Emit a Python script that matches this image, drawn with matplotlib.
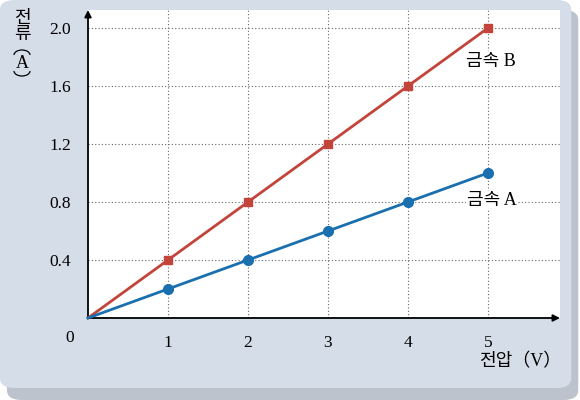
import matplotlib.pyplot as plt
from matplotlib.patches import FancyBboxPatch, Arc

# data
voltage = [0, 1, 2, 3, 4, 5]
current_a = [0, 0.2, 0.4, 0.6, 0.8, 1.0]
current_b = [0, 0.4, 0.8, 1.2, 1.6, 2.0]
xticks = [1, 2, 3, 4, 5]
yticks = [0.4, 0.8, 1.2, 1.6, 2.0]
ytick_labels = ['0.4', '0.8', '1.2', '1.6', '2.0']

serif = ['Liberation Serif', 'DejaVu Serif']
mixed = ['Liberation Serif', 'Noto Sans CJK KR', 'DejaVu Sans']

W, H = 580, 400
fig = plt.figure(figsize=(5.8, 4.0), dpi=100)
fig.patch.set_facecolor('white')

# rounded background panel with shadow
shadow = FancyBboxPatch((0.012, 0.0), 0.985, 0.975, boxstyle='round,pad=0,rounding_size=0.025',
                        transform=fig.transFigure, facecolor='#bcc3cc', edgecolor='none', zorder=-2)
panel = FancyBboxPatch((0.0, 0.03), 0.985, 0.97, boxstyle='round,pad=0,rounding_size=0.025',
                       transform=fig.transFigure, facecolor='#d5dde8', edgecolor='none', zorder=-1)
fig.patches.extend([shadow, panel])

ax = fig.add_axes([88 / W, 82 / H, 472 / W, 308 / H])
ax.set_zorder(5)
ax.set_facecolor('white')
ax.set_xlim(0, 5.9)
ax.set_ylim(0, 2.124)

for s in ax.spines.values():
    s.set_visible(False)

ax.set_xticks(xticks)
ax.set_yticks(yticks)
ax.set_xticklabels([str(t) for t in xticks], family=serif, fontsize=12.5)
ax.set_yticklabels(ytick_labels, family=serif, fontsize=12.5)
ax.tick_params(length=0, pad=12)
ax.grid(True, color='#666666', linestyle=(0, (1, 2)), linewidth=0.8)

# axes with arrows
ax.annotate('', xy=(1.0, 0), xytext=(0, 0), xycoords='axes fraction',
            arrowprops=dict(arrowstyle='-|>', color='black', lw=1.3, mutation_scale=10,
                            shrinkA=0, shrinkB=0))
ax.annotate('', xy=(0, 1.0), xytext=(0, 0), xycoords='axes fraction',
            arrowprops=dict(arrowstyle='-|>', color='black', lw=1.3, mutation_scale=10,
                            shrinkA=0, shrinkB=0))

ax.plot(voltage, current_b, color='#c3443a', lw=2, marker='s', markersize=6,
        markevery=[1, 2, 3, 4, 5], zorder=3, clip_on=False)
ax.plot(voltage, current_a, color='#1a6fae', lw=2, marker='o', markersize=7,
        markevery=[1, 2, 3, 4, 5], zorder=3, clip_on=False)

ax.text(5.04, 1.77, '금속 B', family=mixed, fontsize=13, ha='center', va='center',
        bbox=dict(facecolor='white', edgecolor='none', pad=1))
ax.text(5.05, 0.81, '금속 A', family=mixed, fontsize=13, ha='center', va='center',
        bbox=dict(facecolor='white', edgecolor='none', pad=1))

fig.text(70 / W, 1 - 338 / H, '0', family=serif, fontsize=12.5, ha='center', va='center')
fig.text(561 / W, 1 - 362 / H, '전압（V）', family=mixed, fontsize=13, ha='right', va='center')

# vertical y label: 전류 (A), with sideways brackets drawn as arcs
lx = 22 / W
fig.text(lx, 1 - 19 / H, '전', family=mixed, fontsize=13, ha='center', va='center')
fig.text(lx, 1 - 35 / H, '류', family=mixed, fontsize=13, ha='center', va='center')
fig.text(lx, 1 - 63 / H, 'A', family=serif, fontsize=13, ha='center', va='center')
fig.patches.append(Arc((lx, 1 - 55 / H), 16 / W, 10 / H, theta1=0, theta2=180,
                       transform=fig.transFigure, color='black', lw=0.9))
fig.patches.append(Arc((lx, 1 - 71 / H), 16 / W, 10 / H, theta1=180, theta2=360,
                       transform=fig.transFigure, color='black', lw=0.9))

plt.savefig('out.png', dpi=100, facecolor=fig.get_facecolor())
